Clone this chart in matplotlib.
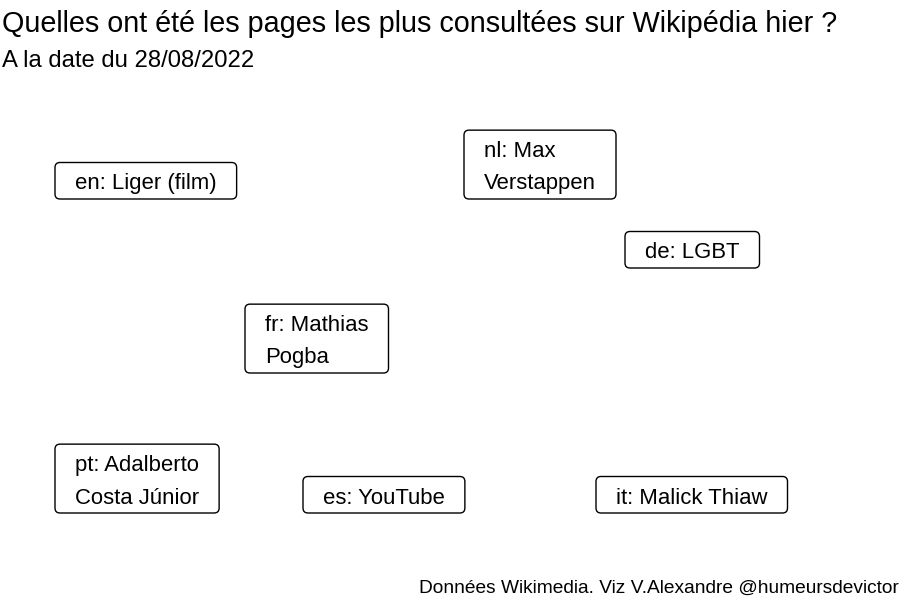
import matplotlib
matplotlib.use("Agg")
import matplotlib.pyplot as plt
from matplotlib.patches import FancyBboxPatch
from matplotlib.transforms import ScaledTranslation, IdentityTransform

plt.rcParams['font.family'] = ['Liberation Sans', 'DejaVu Sans']

# Data: label text and its (x, y) anchor (bottom-left of label)
labels = ["en: Liger (film)", "nl: Max\nVerstappen", "de: LGBT",
          "fr: Mathias\nPogba", "pt: Adalberto\nCosta Júnior",
          "es: YouTube", "it: Malick Thiaw"]
x_vals = [0.55, 4.64, 6.25, 2.45, 0.55, 3.03, 5.96]
y_vals = [4.01, 4.01, 3.32, 2.27, 0.87, 0.87, 0.87]

title = "Quelles ont été les pages les plus consultées sur Wikipédia hier ?"
subtitle = "A la date du 28/08/2022"
caption = "Données Wikimedia. Viz V.Alexandre @humeursdevictor"

fig = plt.figure(figsize=(9, 6), dpi=100)
ax = fig.add_axes([0, 0, 1, 1])
ax.set_xlim(0, 9)
ax.set_ylim(0, 6)
ax.axis('off')

FS = 15.9
padx, pad_bottom, pad_top = 20, 9.5, 11  # pixels
texts = []
for lab, x, y in zip(labels, x_vals, y_vals):
    off = ScaledTranslation(padx / 100, pad_bottom / 100, fig.dpi_scale_trans)
    t = ax.text(x, y, lab, transform=ax.transData + off, ha='left', va='baseline',
                fontsize=FS, linespacing=1.71, color='black', zorder=3)
    texts.append(t)

fig.canvas.draw()
renderer = fig.canvas.get_renderer()
for t, x, y in zip(texts, x_vals, y_vals):
    bb = t.get_window_extent(renderer)
    x0, y0 = ax.transData.transform((x, y))
    x1 = bb.x1 + padx
    y1 = bb.y1 + pad_top
    p = FancyBboxPatch((x0 + 4, y0 + 4), (x1 - x0) - 8, (y1 - y0) - 8,
                       boxstyle="round,pad=4,rounding_size=5",
                       transform=IdentityTransform(), facecolor='white',
                       edgecolor='black', linewidth=1.0, zorder=2, clip_on=False)
    ax.add_patch(p)

fig.text(0.002, 0.947, title, fontsize=20.7, ha='left', va='baseline')
fig.text(0.002, 0.889, subtitle, fontsize=17.2, ha='left', va='baseline')
fig.text(0.999, 0.012, caption, fontsize=13.75, ha='right', va='baseline')

fig.savefig("out.png", dpi=100)
